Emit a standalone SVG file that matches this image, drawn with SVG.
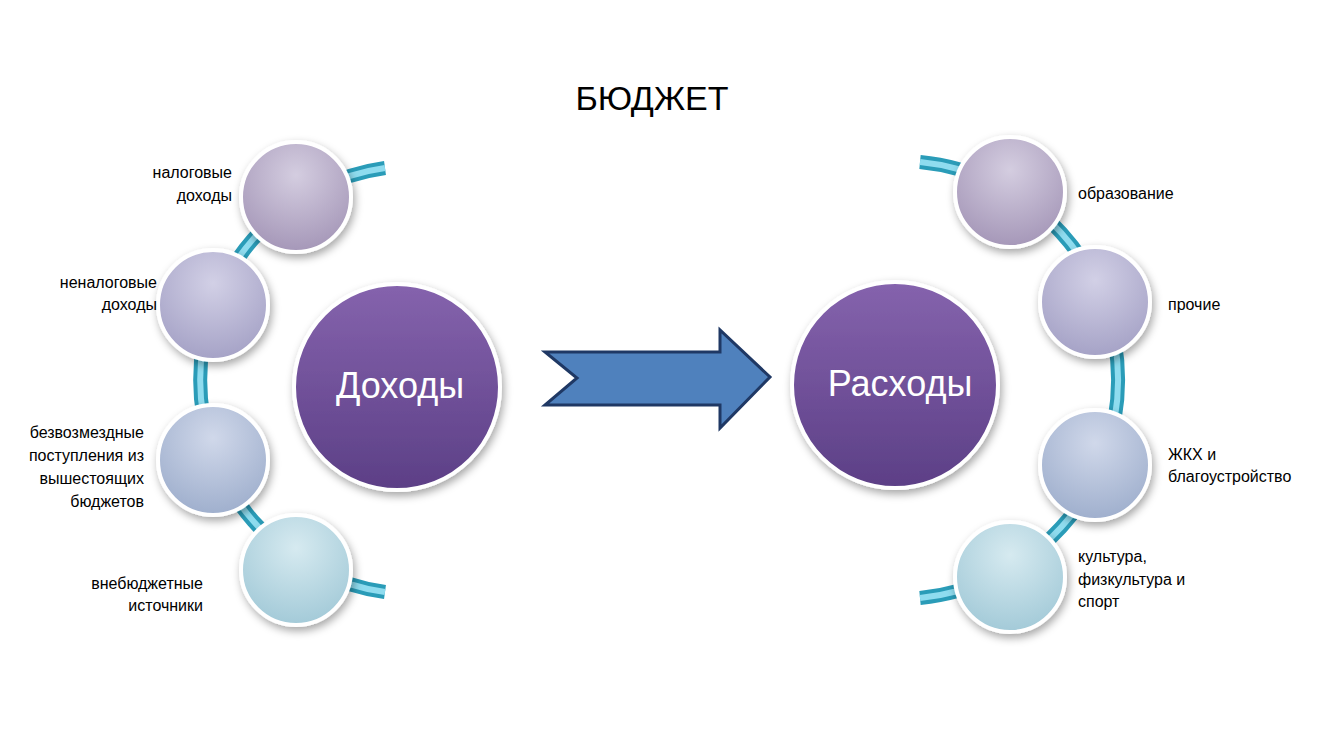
<svg xmlns="http://www.w3.org/2000/svg" width="1325" height="732" viewBox="0 0 1325 732">
<style>
text{font-family:"Liberation Sans",Arial,sans-serif;fill:#000}
.lbl{font-size:16px}
.r{text-anchor:end}
.band{fill:none;stroke:#2a9cb8;stroke-width:14}
.band2{fill:none;stroke:#8fdcef;stroke-width:6}
.sm{stroke:#fff;stroke-width:4}
.big{stroke:#fff;stroke-width:4}
.bt{font-size:36px;fill:#fff;text-anchor:middle}
</style>
<defs>
<radialGradient id="g1" cx="50%" cy="30%" r="70%"><stop offset="0" stop-color="#d4cde0"/><stop offset="1" stop-color="#a597b8"/></radialGradient>
<radialGradient id="g2" cx="50%" cy="30%" r="70%"><stop offset="0" stop-color="#d2d0e6"/><stop offset="1" stop-color="#a5a2c6"/></radialGradient>
<radialGradient id="g3" cx="50%" cy="30%" r="70%"><stop offset="0" stop-color="#d0d8ea"/><stop offset="1" stop-color="#9fafcd"/></radialGradient>
<radialGradient id="g4" cx="50%" cy="30%" r="70%"><stop offset="0" stop-color="#d6eaf0"/><stop offset="1" stop-color="#a3cad8"/></radialGradient>
<linearGradient id="gb" x1="0" y1="0" x2="0" y2="1"><stop offset="0" stop-color="#8563ad"/><stop offset="1" stop-color="#5c3f86"/></linearGradient>
<filter id="sh" x="-20%" y="-20%" width="140%" height="140%"><feDropShadow dx="2" dy="4" stdDeviation="4" flood-opacity="0.35"/></filter>
</defs>
<text x="652" y="110" font-size="34" text-anchor="middle">БЮДЖЕТ</text>
<g id="connectors">
<path class="band" d="M385,168 A214,214 0 0 0 385,592"/>
<path class="band2" d="M385,168 A214,214 0 0 0 385,592"/>
<path class="band" d="M920,162 A219,219 0 0 1 920,598"/>
<path class="band2" d="M920,162 A219,219 0 0 1 920,598"/>
<polygon id="arrow" points="545,352 720,352 720,330 770,377 720,428 720,405 545,405 577,378" fill="#4f81bd" stroke="#1f3864" stroke-width="3"/>
</g>
<g id="n-dohody"><circle cx="397" cy="387" r="103" class="big" fill="url(#gb)" filter="url(#sh)"/><text class="bt" x="400" y="398">Доходы</text></g>
<g id="n-rashody"><circle cx="895" cy="385" r="103" class="big" fill="url(#gb)" filter="url(#sh)"/><text class="bt" x="900" y="396">Расходы</text></g>
<g id="n-nalog"><circle cx="296" cy="197" r="55" class="sm" fill="url(#g1)" filter="url(#sh)"/><text class="lbl r" x="232" y="178">налоговые</text><text class="lbl r" x="232" y="201">доходы</text></g>
<g id="n-nenalog"><circle cx="213" cy="305" r="55" class="sm" fill="url(#g2)" filter="url(#sh)"/><text class="lbl r" x="157" y="288">неналоговые</text><text class="lbl r" x="157" y="310">доходы</text></g>
<g id="n-bezv"><circle cx="213" cy="460" r="55" class="sm" fill="url(#g3)" filter="url(#sh)"/><text class="lbl r" x="144" y="438">безвозмездные</text><text class="lbl r" x="144" y="461">поступления из</text><text class="lbl r" x="144" y="484">вышестоящих</text><text class="lbl r" x="144" y="507">бюджетов</text></g>
<g id="n-vneb"><circle cx="296" cy="570" r="55" class="sm" fill="url(#g4)" filter="url(#sh)"/><text class="lbl r" x="203" y="589">внебюджетные</text><text class="lbl r" x="203" y="611">источники</text></g>
<g id="n-obr"><circle cx="1010" cy="192" r="55" class="sm" fill="url(#g1)" filter="url(#sh)"/><text class="lbl" x="1078" y="199">образование</text></g>
<g id="n-proch"><circle cx="1095" cy="302" r="55" class="sm" fill="url(#g2)" filter="url(#sh)"/><text class="lbl" x="1168" y="310">прочие</text></g>
<g id="n-zhkh"><circle cx="1095" cy="465" r="55" class="sm" fill="url(#g3)" filter="url(#sh)"/><text class="lbl" x="1168" y="460">ЖКХ и</text><text class="lbl" x="1168" y="482">благоустройство</text></g>
<g id="n-kult"><circle cx="1010" cy="577" r="55" class="sm" fill="url(#g4)" filter="url(#sh)"/><text class="lbl" x="1078" y="562">культура,</text><text class="lbl" x="1078" y="585">физкультура и</text><text class="lbl" x="1078" y="607">спорт</text></g>
</svg>
